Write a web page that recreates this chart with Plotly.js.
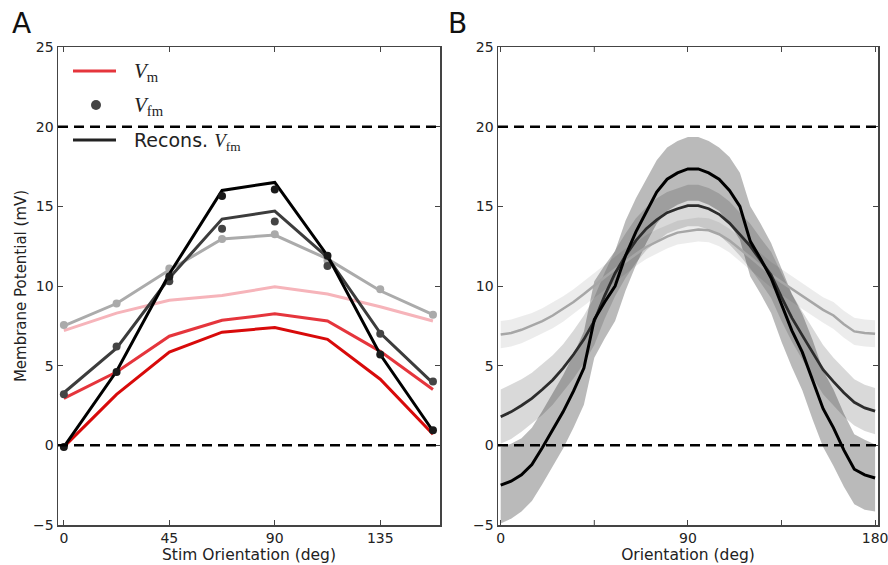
<!DOCTYPE html>
<html>
<head>
<meta charset="utf-8">
<script src="https://cdn.plot.ly/plotly-3.0.1.min.js"></script>
<style>html,body{margin:0;padding:0;background:#fff;}#chart{width:888px;height:565px;}</style>
</head>
<body>
<div id="chart"></div>
<script>
// ---------- Panel A data ----------
const stimDeg = [0, 22.5, 45, 67.5, 90, 112.5, 135, 157.5];
const vmLight = [7.2, 8.3, 9.1, 9.4, 9.95, 9.5, 8.7, 7.8];
const vmMid   = [2.95, 4.6, 6.85, 7.85, 8.25, 7.8, 5.9, 3.5];
const vmDark  = [-0.1, 3.2, 5.85, 7.1, 7.4, 6.65, 4.15, 0.7];
const vfmLight = [7.55, 8.9, 11.1, 12.95, 13.25, 11.6, 9.8, 8.2];
const vfmMid   = [3.2, 6.2, 10.3, 13.6, 14.05, 11.25, 7.0, 4.0];
const vfmDark  = [-0.1, 4.6, 10.6, 15.65, 16.05, 11.9, 5.7, 0.95];
const reconLight = [7.5, 8.9, 11.0, 12.95, 13.2, 11.7, 9.7, 8.2];
const reconMid   = [3.3, 6.1, 10.5, 14.2, 14.7, 11.8, 7.05, 3.9];
const reconDark  = [-0.1, 4.65, 10.75, 16.0, 16.5, 11.9, 5.7, 0.9];

// ---------- Panel B data ----------
const orient = [0,5,10,15,20,25,30,35,40,45,50,55,60,65,70,75,80,85,90,95,100,105,110,115,120,125,130,135,140,145,150,155,160,165,170,175,180];
const meanLight = [6.95,7.05,7.25,7.5,7.8,8.15,8.55,9.0,9.5,10.05,10.55,11.05,11.55,12.0,12.45,12.8,13.1,13.35,13.45,13.55,13.5,13.25,12.85,12.35,11.8,11.25,10.7,10.25,9.8,9.35,8.9,8.5,8.15,7.6,7.15,7.05,7.0];
const sdLight   = [0.85,0.85,0.85,0.8,0.8,0.8,0.8,0.8,0.8,0.8,0.8,0.8,0.8,0.75,0.75,0.75,0.75,0.75,0.75,0.75,0.75,0.75,0.75,0.75,0.8,0.8,0.8,0.8,0.8,0.8,0.8,0.8,0.85,0.85,0.85,0.85,0.85];
const meanMid = [1.8,2.1,2.5,2.95,3.5,4.1,4.85,5.7,6.65,7.8,9.4,10.8,11.9,12.85,13.6,14.15,14.6,14.85,15.05,15.05,14.85,14.5,13.95,13.25,12.5,11.6,10.7,9.3,8.0,6.9,5.8,4.75,4.0,3.3,2.7,2.35,2.15];
const sdMid   = [1.7,1.7,1.65,1.6,1.6,1.55,1.5,1.5,1.5,1.5,1.45,1.45,1.4,1.4,1.35,1.35,1.3,1.3,1.3,1.3,1.3,1.3,1.35,1.35,1.4,1.4,1.45,1.5,1.5,1.5,1.55,1.55,1.5,1.5,1.45,1.45,1.45];
const meanDark = [-2.5,-2.25,-1.85,-1.2,-0.15,0.95,2.1,3.4,4.85,7.9,9.0,10.0,11.9,13.4,14.7,15.9,16.7,17.1,17.35,17.35,17.1,16.7,16.0,15.0,12.8,11.7,10.5,8.8,7.2,5.85,4.1,2.3,1.1,-0.3,-1.5,-1.85,-2.05];
const sdDark   = [2.4,2.35,2.3,2.3,2.3,2.3,2.3,2.3,2.3,2.4,2.3,2.2,2.2,2.1,2.0,2.0,2.0,2.0,2.0,2.0,2.0,2.0,2.1,2.1,2.2,2.2,2.2,2.3,2.3,2.4,2.5,2.4,2.4,2.3,2.2,2.2,2.1];

const xTicksA = [0, 45, 90, 135];
const xTicksB = [0, 90, 180];
const xMinorB = [45, 135];
const yTicks = [-5, 0, 5, 10, 15, 20, 25];
const refLevels = [0, 20];

const FONT = 'DejaVu Sans, Bitstream Vera Sans, sans-serif';
const SERIF = 'Liberation Serif, DejaVu Serif, serif';

function line(x, y, color, width, xa, ya) {
  return {x: x, y: y, mode: 'lines', type: 'scatter', line: {color: color, width: width},
          xaxis: xa, yaxis: ya, showlegend: false, hoverinfo: 'skip'};
}
function dots(x, y, color) {
  return {x: x, y: y, mode: 'markers', type: 'scatter', marker: {color: color, size: 8},
          xaxis: 'x', yaxis: 'y', showlegend: false, hoverinfo: 'skip'};
}
function band(x, m, s, color) {
  const up = m.map((v, i) => v + s[i]);
  const lo = m.map((v, i) => v - s[i]);
  return {x: x.concat(x.slice().reverse()), y: up.concat(lo.slice().reverse()),
          type: 'scatter', mode: 'lines', fill: 'toself', fillcolor: color,
          line: {width: 0, color: 'rgba(0,0,0,0)'}, xaxis: 'x2', yaxis: 'y2',
          showlegend: false, hoverinfo: 'skip'};
}

const traces = [
  line(stimDeg, vmLight, '#f6b4ba', 3, 'x', 'y'),
  line(stimDeg, vmMid, '#e5353c', 3, 'x', 'y'),
  line(stimDeg, vmDark, '#d80a0a', 3, 'x', 'y'),
  line(stimDeg, reconLight, '#ababab', 3, 'x', 'y'),
  dots(stimDeg, vfmLight, '#aaaaaa'),
  line(stimDeg, reconMid, '#3c3c3c', 3, 'x', 'y'),
  dots(stimDeg, vfmMid, '#444444'),
  line(stimDeg, reconDark, '#000000', 3, 'x', 'y'),
  dots(stimDeg, vfmDark, '#1a1a1a'),
  band(orient, meanLight, sdLight, 'rgba(0,0,0,0.075)'),
  band(orient, meanMid, sdMid, 'rgba(0,0,0,0.15)'),
  band(orient, meanDark, sdDark, 'rgba(0,0,0,0.27)'),
  line(orient, meanLight, '#a6a6a6', 2.5, 'x2', 'y2'),
  line(orient, meanMid, '#2c2c2c', 2.8, 'x2', 'y2'),
  line(orient, meanDark, '#000000', 3, 'x2', 'y2')
];

const axisCommon = {
  showline: true, mirror: 'allticks', linecolor: '#444', linewidth: 1.5,
  ticks: 'inside', ticklen: 5, tickwidth: 1, tickcolor: '#444',
  showgrid: false, zeroline: false, ticklabeloverflow: 'allow',
  tickfont: {family: FONT, size: 14, color: '#222'}
};

const shapes = [];
refLevels.forEach(v => {
  ['', '2'].forEach(k => {
    shapes.push({type: 'line', xref: 'x' + k + ' domain', yref: 'y' + k, x0: 0, x1: 1, y0: v, y1: v,
                 line: {color: '#000', width: 2.5, dash: '10px,6px'}, layer: 'above'});
  });
});
function px(xp) { return xp / 888; }
function py(yp) { return 1 - yp / 565; }
// manual legend samples (panel A)
shapes.push({type: 'line', xref: 'paper', yref: 'paper', x0: px(73), x1: px(116), y0: py(71), y1: py(71),
             line: {color: '#e5353c', width: 3}});
shapes.push({type: 'circle', xref: 'paper', yref: 'paper', x0: px(91), x1: px(101), y0: py(100), y1: py(110),
             fillcolor: '#444', line: {color: '#444', width: 0}});
shapes.push({type: 'line', xref: 'paper', yref: 'paper', x0: px(73), x1: px(116), y0: py(140), y1: py(140),
             line: {color: '#222', width: 3}});
// minor ticks (45, 135) on panel B, bottom and top
[0, 1].forEach(edge => {
  xMinorB.forEach(v => {
    shapes.push({type: 'line', xref: 'x2', yref: 'y2 domain', x0: v, x1: v,
                 y0: edge, y1: edge === 0 ? 5/478 : 1 - 5/478, line: {color: '#444', width: 1}});
  });
});

const annotations = [
  {text: 'A', xref: 'paper', yref: 'paper', x: px(10), y: py(23), xanchor: 'left', yanchor: 'middle',
   showarrow: false, font: {family: FONT, size: 28, color: '#111'}},
  {text: 'B', xref: 'paper', yref: 'paper', x: px(446), y: py(23), xanchor: 'left', yanchor: 'middle',
   showarrow: false, font: {family: FONT, size: 28, color: '#111'}},
  {text: '<i>V</i><sub>m</sub>', xref: 'paper', yref: 'paper', x: px(132), y: py(72), xanchor: 'left', yanchor: 'middle',
   showarrow: false, font: {family: SERIF, size: 21, color: '#222'}},
  {text: '<i>V</i><sub>fm</sub>', xref: 'paper', yref: 'paper', x: px(132), y: py(106), xanchor: 'left', yanchor: 'middle',
   showarrow: false, font: {family: SERIF, size: 21, color: '#222'}},
  {text: 'Recons. <span style="font-family:Liberation Serif"><i>V</i><sub>fm</sub></span>', xref: 'paper', yref: 'paper',
   x: px(132), y: py(141), xanchor: 'left', yanchor: 'middle',
   showarrow: false, font: {family: FONT, size: 19, color: '#222'}}
];

const yText = yTicks.map(v => v < 0 ? '\u2212' + Math.abs(v) : String(v));

const layout = {
  width: 888, height: 565,
  margin: {l: 0, r: 0, t: 0, b: 0},
  paper_bgcolor: '#fff', plot_bgcolor: '#fff',
  showlegend: false,
  font: {family: FONT, color: '#222'},
  xaxis: Object.assign({}, axisCommon, {
    domain: [58/888, 440/888], range: [-2.5, 160.5],
    tickvals: xTicksA, ticktext: xTicksA.map(String),
    title: {text: 'Stim Orientation (deg)', font: {family: FONT, size: 15.5, color: '#222'}, standoff: 1},
    anchor: 'y'
  }),
  yaxis: Object.assign({}, axisCommon, {
    domain: [1 - 525/565, 1 - 47/565], range: [-5, 25],
    tickvals: yTicks, ticktext: yText,
    title: {text: 'Membrane Potential (mV)', font: {family: FONT, size: 15, color: '#222'}, standoff: 3},
    anchor: 'x'
  }),
  xaxis2: Object.assign({}, axisCommon, {
    domain: [498/888, 878/888], range: [-1.3, 181.4],
    tickvals: xTicksB, ticktext: xTicksB.map(String),
    title: {text: 'Orientation (deg)', font: {family: FONT, size: 15.5, color: '#222'}, standoff: 1},
    anchor: 'y2'
  }),
  yaxis2: Object.assign({}, axisCommon, {
    domain: [1 - 525/565, 1 - 47/565], range: [-5, 25],
    tickvals: yTicks, ticktext: yText,
    anchor: 'x2'
  }),
  shapes: shapes,
  annotations: annotations
};

Plotly.newPlot('chart', traces, layout, {displayModeBar: false, staticPlot: true});
</script>
</body>
</html>
